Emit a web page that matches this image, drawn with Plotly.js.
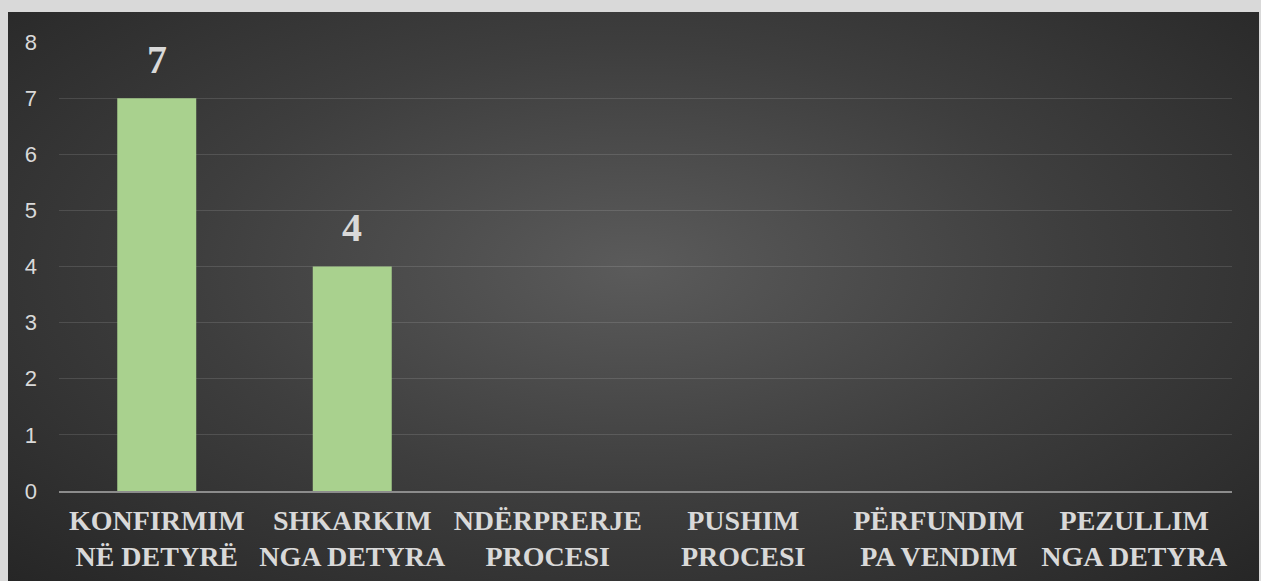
<!DOCTYPE html>
<html>
<head>
<meta charset="utf-8">
<script src="https://cdn.plot.ly/plotly-3.0.1.min.js"></script>
<style>
  html, body { margin: 0; padding: 0; background: #d9d9d9; width: 1261px; height: 581px; overflow: hidden; }
  #chart {
    position: absolute; left: 8px; top: 12px; width: 1251px; height: 569px;
    background: radial-gradient(ellipse at 50% 45%, #5b5b5b 0%, #3e3e3e 50%, #262626 100%);
  }
</style>
</head>
<body>
<div id="chart"></div>
<script>
var categories = ["KONFIRMIM<br>NË DETYRË", "SHKARKIM<br>NGA DETYRA", "NDËRPRERJE<br>PROCESI",
                  "PUSHIM<br>PROCESI", "PËRFUNDIM<br>PA VENDIM", "PEZULLIM<br>NGA DETYRA"];
var values = [7, 4, 0, 0, 0, 0];
var valueLabels = ["7", "4", "", "", "", ""];

var trace1 = {
  x: categories,
  y: values,
  type: "bar",
  marker: { color: "#a9d18e" },
  hoverinfo: "skip"
};

// value labels above the bars
var notes = [];
for (var i = 0; i < categories.length; i++) {
  if (valueLabels[i] === "") continue;
  notes.push({
    x: categories[i], y: values[i], text: valueLabels[i],
    showarrow: false, yanchor: "middle", yshift: 39,
    font: { family: "Liberation Serif", size: 40, color: "#d9d9d9", weight: "bold" }
  });
}

var layout = {
  width: 1251,
  height: 569,
  margin: { l: 51, r: 27, t: 30, b: 90 },
  paper_bgcolor: "rgba(0,0,0,0)",
  plot_bgcolor: "rgba(0,0,0,0)",
  showlegend: false,
  bargap: 0.596,
  xaxis: {
    type: "category",
    showgrid: false,
    showline: true,
    linecolor: "#8c8c8c",
    linewidth: 2,
    ticks: "",
    ticklabelstandoff: 3,
    tickfont: { family: "Liberation Serif", size: 28, color: "#d9d9d9", weight: "bold" }
  },
  yaxis: {
    range: [0, 8],
    dtick: 1,
    showgrid: true,
    gridcolor: "rgba(255,255,255,0.12)",
    gridwidth: 1,
    zeroline: false,
    showline: false,
    ticks: "",
    ticklabelstandoff: 21,
    tickfont: { family: "Liberation Sans", size: 22, color: "#d9d9d9" }
  },
  annotations: notes
};

Plotly.newPlot("chart", [trace1], layout, { displayModeBar: false, staticPlot: true });
</script>
</body>
</html>
